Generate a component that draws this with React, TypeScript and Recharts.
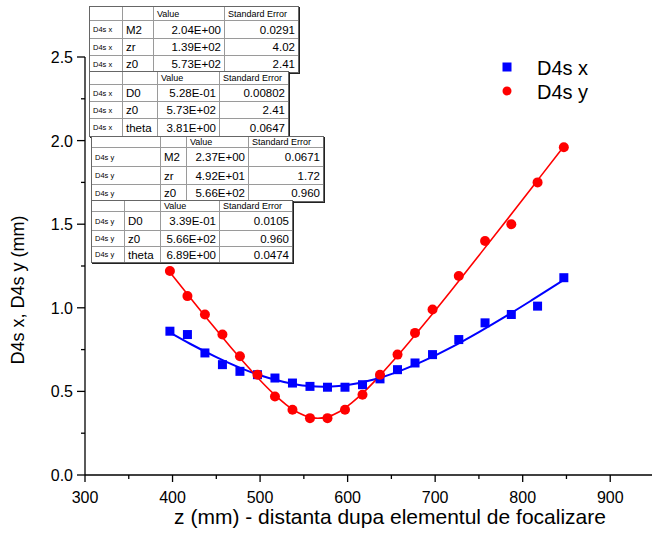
import React from "react";
import { ComposedChart, Scatter, Line, XAxis, YAxis, Label } from "recharts";

// measured positions along the beam (mm)
const zPos = [397, 417, 437, 457, 477, 497, 517, 537, 557, 577, 597, 617, 637, 657, 677, 697, 727, 757, 787, 817, 847];
const d4sX = [0.86, 0.84, 0.73, 0.66, 0.62, 0.6, 0.58, 0.55, 0.53, 0.525, 0.525, 0.54, 0.575, 0.63, 0.67, 0.72, 0.81, 0.91, 0.96, 1.01, 1.18];
const d4sY = [1.22, 1.07, 0.96, 0.84, 0.71, 0.6, 0.47, 0.39, 0.34, 0.34, 0.39, 0.48, 0.6, 0.72, 0.85, 0.99, 1.19, 1.4, 1.5, 1.75, 1.96];

// fitted curves
const fitXz = [397, 420, 450, 480, 510, 540, 555, 573, 590, 600, 630, 660, 690, 720, 750, 780, 810, 847];
const fitXd = [0.852, 0.785, 0.705, 0.635, 0.58, 0.543, 0.532, 0.528, 0.532, 0.538, 0.571, 0.623, 0.69, 0.768, 0.855, 0.947, 1.044, 1.167];
const fitYz = [397, 410, 425, 440, 455, 470, 485, 500, 515, 530, 545, 556, 566, 576, 590, 605, 620, 635, 650, 670, 690, 720, 750, 790, 820, 847];
const fitYd = [1.213, 1.127, 1.029, 0.932, 0.837, 0.743, 0.653, 0.567, 0.488, 0.42, 0.369, 0.346, 0.339, 0.346, 0.377, 0.433, 0.503, 0.584, 0.671, 0.793, 0.919, 1.114, 1.313, 1.58, 1.783, 1.966];

const xTicks = [300, 350, 400, 450, 500, 550, 600, 650, 700, 750, 800, 850, 900, 950];
const yTicks = [0, 0.25, 0.5, 0.75, 1, 1.25, 1.5, 1.75, 2, 2.25, 2.5];

// fit result tables
const tableHeader = ["", "", "Value", "Standard Error"];
const beamX1 = [
  ["D4s x", "M2", "2.04E+00", "0.0291"],
  ["D4s x", "zr", "1.39E+02", "4.02"],
  ["D4s x", "z0", "5.73E+02", "2.41"],
];
const beamX2 = [
  ["D4s x", "D0", "5.28E-01", "0.00802"],
  ["D4s x", "z0", "5.73E+02", "2.41"],
  ["D4s x", "theta", "3.81E+00", "0.0647"],
];
const beamY1 = [
  ["D4s y", "M2", "2.37E+00", "0.0671"],
  ["D4s y", "zr", "4.92E+01", "1.72"],
  ["D4s y", "z0", "5.66E+02", "0.960"],
];
const beamY2 = [
  ["D4s y", "D0", "3.39E-01", "0.0105"],
  ["D4s y", "z0", "5.66E+02", "0.960"],
  ["D4s y", "theta", "6.89E+00", "0.0474"],
];

const pts = (xs: number[], ys: number[]) => xs.map((z, i) => ({ z, d: ys[i] }));
const dataX = pts(zPos, d4sX);
const dataY = pts(zPos, d4sY);
const fitX = pts(fitXz, fitXd);
const fitY = pts(fitYz, fitYd);

const FONT = '"Liberation Sans", Arial, sans-serif';

const XTick = (props: any) => {
  const { x, y, payload } = props;
  const major = payload.value % 100 === 0;
  return (
    <g>
      <line x1={x} x2={x} y1={y} y2={y + (major ? 7 : 4)} stroke="#000" strokeWidth={1.3} />
      {major && (
        <text x={x} y={y + 28} textAnchor="middle" fontSize={16} fill="#000" fontFamily={FONT}>
          {payload.value}
        </text>
      )}
    </g>
  );
};

const YTick = (props: any) => {
  const { x, y, payload } = props;
  const major = Math.abs((payload.value * 2) % 1) < 1e-6;
  return (
    <g>
      <line x1={x - (major ? 8 : 4)} x2={x} y1={y} y2={y} stroke="#000" strokeWidth={1.3} />
      {major && (
        <text x={x - 12} y={y + 6} textAnchor="end" fontSize={16} fill="#000" fontFamily={FONT}>
          {payload.value.toFixed(1)}
        </text>
      )}
    </g>
  );
};

const Square = (props: any) => (
  <rect x={props.cx - 4.5} y={props.cy - 4.5} width={9} height={9} fill="#0000ff" />
);
const Dot = (props: any) => <circle cx={props.cx} cy={props.cy} r={5} fill="#ff0000" />;

function FitTable({ left, top, cols, rows, body }: any) {
  const all = [tableHeader, ...body];
  return (
    <div
      style={{
        position: "absolute",
        left,
        top,
        display: "grid",
        gridTemplateColumns: cols.map((c: number) => c + "px").join(" "),
        gridTemplateRows: rows.map((r: number) => r + "px").join(" "),
        background: "#fff",
        border: "1px solid #666",
        boxShadow: "1px 1px 0 #222",
        fontFamily: FONT,
        color: "#000",
      }}
    >
      {all.map((row: string[], r: number) =>
        row.map((cell: string, c: number) => (
          <div
            key={r + "-" + c}
            style={{
              boxSizing: "border-box",
              borderRight: c < 3 ? "1px solid #9a9a9a" : "none",
              borderBottom: r < all.length - 1 ? "1px solid #9a9a9a" : "none",
              display: "flex",
              alignItems: "center",
              justifyContent: r > 0 && c >= 2 ? "flex-end" : "flex-start",
              padding: "0 3px",
              fontSize: r === 0 ? 9 : c === 0 ? 7.5 : 11.5,
              whiteSpace: "nowrap",
              overflow: "hidden",
            }}
          >
            {cell}
          </div>
        ))
      )}
    </div>
  );
}

export default function App() {
  return (
    <div
      style={{
        position: "absolute",
        left: 0,
        top: 0,
        width: 652,
        height: 542,
        overflow: "hidden",
        background: "#fff",
        fontFamily: FONT,
      }}
    >
      <ComposedChart width={660} height={542} margin={{ top: 57, right: 6, bottom: 0, left: 0 }}>
        <XAxis
          type="number"
          dataKey="z"
          domain={[300, 950]}
          ticks={xTicks}
          interval={0}
          allowDataOverflow
          height={67}
          tickSize={0}
          tickMargin={0}
          tick={<XTick />}
          axisLine={{ stroke: "#000", strokeWidth: 1.3 }}
          tickLine={false}
        >
          <Label
            content={() => (
              <text x={390} y={524} textAnchor="middle" fontSize={21} fill="#000" fontFamily={FONT}>
                z (mm) - distanta dupa elementul de focalizare
              </text>
            )}
          />
        </XAxis>
        <YAxis
          type="number"
          dataKey="d"
          domain={[0, 2.5]}
          ticks={yTicks}
          interval={0}
          allowDataOverflow
          width={85}
          tickSize={0}
          tickMargin={0}
          tick={<YTick />}
          axisLine={{ stroke: "#000", strokeWidth: 1.3 }}
          tickLine={false}
        >
          <Label
            content={() => (
              <text
                x={24}
                y={290}
                transform="rotate(-90, 24, 290)"
                textAnchor="middle"
                fontSize={18}
                fill="#000"
                fontFamily={FONT}
              >
                D4s x, D4s y (mm)
              </text>
            )}
          />
        </YAxis>
        <Line data={fitX} dataKey="d" type="monotone" stroke="#0000ff" strokeWidth={2} dot={false} activeDot={false} isAnimationActive={false} />
        <Scatter data={dataX} dataKey="d" shape={Square} isAnimationActive={false} />
        <Line data={fitY} dataKey="d" type="monotone" stroke="#ff0000" strokeWidth={1.6} dot={false} activeDot={false} isAnimationActive={false} />
        <Scatter data={dataY} dataKey="d" shape={Dot} isAnimationActive={false} />
      </ComposedChart>

      <svg style={{ position: "absolute", left: 490, top: 50 }} width={140} height={60}>
        <rect x={12.5} y={12.5} width={9} height={9} fill="#0000ff" />
        <text x={47} y={25} fontSize={20} fill="#000" fontFamily={FONT}>D4s x</text>
        <circle cx={17} cy={41} r={4.5} fill="#ff0000" />
        <text x={47} y={49} fontSize={20} fill="#000" fontFamily={FONT}>D4s y</text>
      </svg>

      <FitTable left={89} top={6} cols={[33, 31, 71, 73]} rows={[14, 18, 17, 16]} body={beamX1} />
      <FitTable left={89} top={71} cols={[33, 35, 62, 68]} rows={[13, 17, 17, 17]} body={beamX2} />
      <FitTable left={91} top={136} cols={[69, 26, 62, 74]} rows={[11, 19, 18, 16]} body={beamY1} />
      <FitTable left={91} top={200} cols={[33, 36, 59, 72]} rows={[11, 19, 16, 15]} body={beamY2} />
    </div>
  );
}
